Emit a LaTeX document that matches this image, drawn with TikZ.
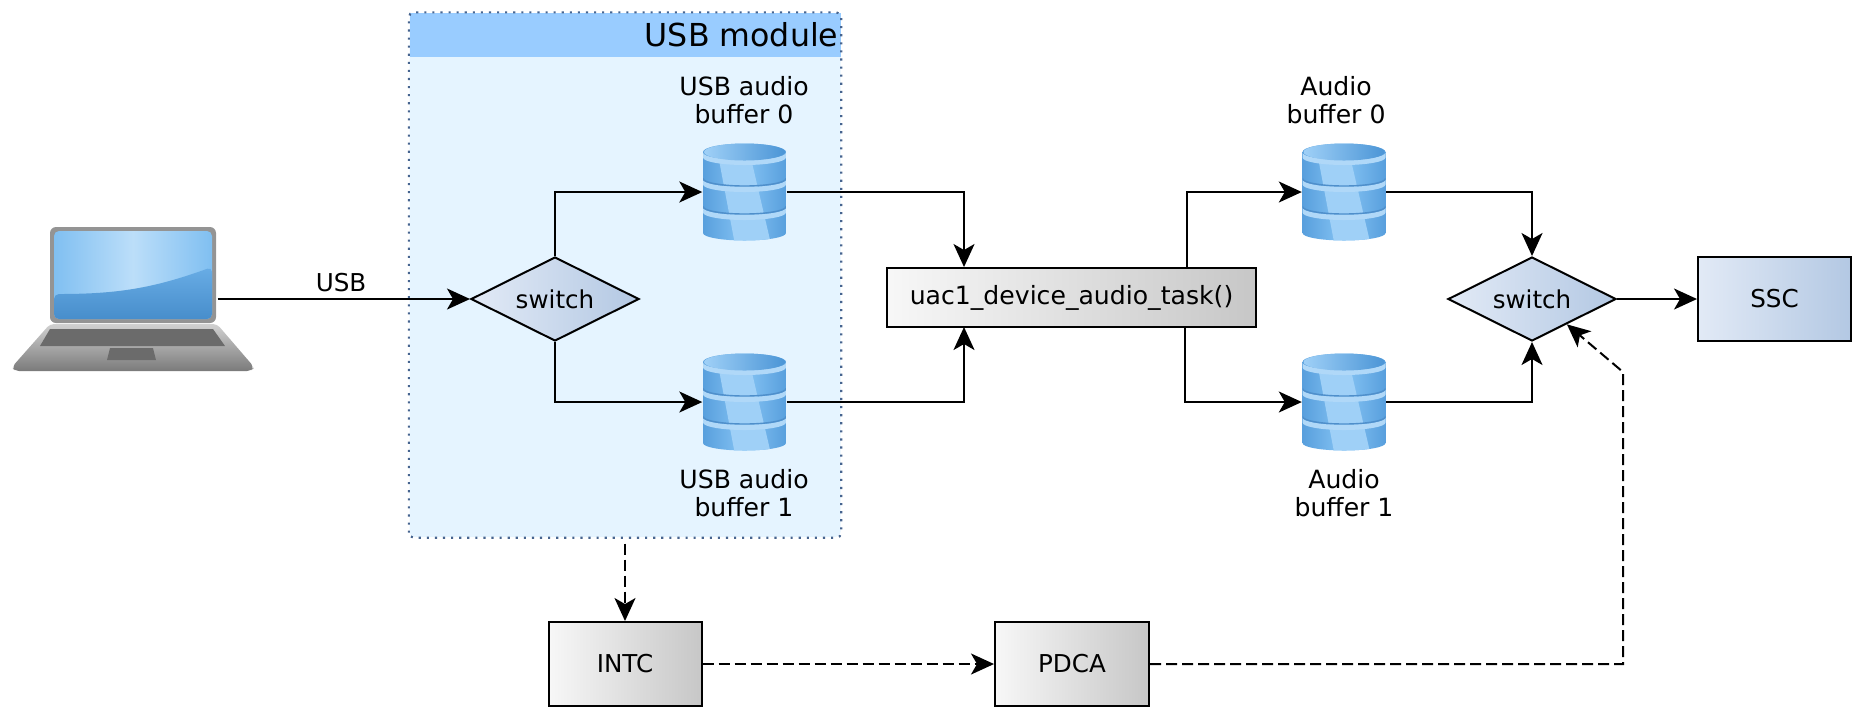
\documentclass[tikz,border=0pt]{standalone}
\usepackage{fontspec}
\setmainfont{DejaVu Sans}
\usetikzlibrary{arrows.meta,shapes.geometric}
\definecolor{modfill}{HTML}{E5F4FF}
\definecolor{modhead}{HTML}{99CCFF}
\definecolor{modline}{HTML}{46648F}
\definecolor{swleft}{HTML}{E2EAF6}
\definecolor{swright}{HTML}{B3C8E3}
\definecolor{dbdark}{HTML}{4B95D6}
\definecolor{dbside}{HTML}{589FDD}
\definecolor{dbmid}{HTML}{86C4F4}
\definecolor{dblight}{HTML}{9FD0F7}
\definecolor{dbrim}{HTML}{B0D8F8}
\definecolor{dbseam}{HTML}{4F8FCB}
\tikzset{
  txt/.style={font=\fontsize{7}{8.1}\selectfont, inner sep=0pt, align=center},
  bufname/.style={font=\fontsize{7.15}{8.1}\selectfont, inner sep=0pt, align=center},
  flow/.style={line width=0.57pt, -{Stealth[length=2.3mm,width=2.1mm,inset=0.6mm]}},
  dflow/.style={flow, dash pattern=on 1.1mm off 0.5mm},
  greybox/.style={txt, draw, line width=0.57pt, shading angle=110, left color=black!3, right color=black!22},
  bluebox/.style={txt, draw, line width=0.57pt, shading angle=110, left color=swleft, right color=swright},
  switchnode/.style={txt, diamond, aspect=2, draw, line width=0.57pt, minimum width=1.68cm, minimum height=0.84cm,
    shading angle=110, left color=swleft, right color=swright},
  dbnode/.style={inner sep=0pt, minimum width=0.83cm, minimum height=0.98cm},
  pics/dbicon/.style={code={
    \begin{scope}
      \clip (-0.415,-0.40) -- (-0.415,0.41) arc[x radius=0.415, y radius=-0.075, start angle=180, end angle=360]
        -- (0.415,-0.40) arc[x radius=0.415, y radius=-0.085, start angle=0, end angle=180] -- cycle;
      \shade[left color=dbside, right color=dbside, middle color=dbmid] (-0.415,-0.50) rectangle (0.415,0.50);
      \fill[dblight] (-0.27,-0.40) -- (0.05,-0.40) -- (0.26,0.50) -- (-0.10,0.50) -- cycle;
      \foreach \s in {-0.395,-0.125,0.155} {
        \fill[dbrim] (-0.415,\s) arc[x radius=0.415, y radius=-0.075, start angle=180, end angle=360]
          -- ++(0,0.05) arc[x radius=0.415, y radius=-0.075, start angle=360, end angle=180] -- cycle;
      }
      \foreach \s in {-0.135,0.145} {
        \draw[dbseam, line width=0.4pt] (-0.415,\s) arc[x radius=0.415, y radius=-0.075, start angle=180, end angle=360];
      }
    \end{scope}
    \shade[left color=dblight, right color=dbdark] (0,-0.40) ellipse[x radius=0.405, y radius=0.085];
  }}
}
\begin{document}
\begin{tikzpicture}[x=1cm, y=-1cm]
   \useasboundingbox (0,0) rectangle (18.63,7.18);
   % usb module
   \node[fill=modfill, rounded corners=0.5mm, minimum width=4.31cm, minimum height=5.24cm, inner sep=0pt] (usbmod) at (6.25,2.75) {};
   \node[fill=modhead, minimum width=4.31cm, minimum height=0.44cm, inner sep=0pt] (usbhead) at (6.25,0.35) {};
   \draw[modline, dash pattern=on 0.6pt off 1.7pt, line width=0.6pt, rounded corners=0.5mm] (usbmod.south west) rectangle (usbmod.north east);
   \node[font=\fontsize{9}{10}\selectfont, anchor=east, inner sep=0pt] (usbtitle) at (8.39,0.35) {USB module};
   % laptop
   \shade[top color=black!18, bottom color=black!52, rounded corners=0.4mm] (0.12,3.67) -- (0.50,3.24) -- (2.17,3.24) -- (2.54,3.67) -- (2.51,3.71) -- (0.15,3.71) -- cycle;
   \fill[black!58] (0.40,3.46) -- (0.50,3.29) -- (2.13,3.29) -- (2.25,3.46) -- cycle;
   \fill[black!58] (1.07,3.60) -- (1.10,3.48) -- (1.53,3.48) -- (1.56,3.60) -- cycle;
   \fill[black!42, rounded corners=0.6mm] (0.50,2.27) rectangle (2.16,3.23);
   \shade[rounded corners=0.5mm, left color=dbmid!90!dbdark, right color=dbmid!90!dbdark, middle color=dblight!70!white] (0.54,2.31) rectangle (2.12,3.19);
   \shade[top color=dbmid!50!dbdark, bottom color=dbdark!95!black, rounded corners=0.5mm] (0.54,2.94) to[out=0,in=200] (2.12,2.67) -- (2.12,3.19) -- (0.54,3.19) -- cycle;
   \node[inner sep=0pt, minimum width=1.67cm, minimum height=1cm] (laptop) at (1.335,2.99) {};
   % buffers
   \pic at (7.445,1.92) {dbicon};
   \pic at (7.445,4.02) {dbicon};
   \pic at (13.44,1.92) {dbicon};
   \pic at (13.44,4.02) {dbicon};
   \node[dbnode] (usbbuf0) at (7.445,1.92) {};
   \node[dbnode] (usbbuf1) at (7.445,4.02) {};
   \node[dbnode] (audbuf0) at (13.44,1.92) {};
   \node[dbnode] (audbuf1) at (13.44,4.02) {};
   \node[bufname] (usblab0) at (7.44,1.00) {USB audio\\buffer 0};
   \node[bufname] (usblab1) at (7.44,4.93) {USB audio\\buffer 1};
   \node[bufname] (audlab0) at (13.36,1.00) {Audio\\buffer 0};
   \node[bufname] (audlab1) at (13.44,4.93) {Audio\\buffer 1};
   % blocks
   \node[switchnode] (swin) at (5.55,2.99) {switch};
   \node[switchnode] (swout) at (15.32,2.99) {switch};
   \node[greybox, font=\fontsize{7.15}{8.1}\selectfont, minimum width=3.69cm, minimum height=0.59cm] (task) at (10.715,2.975) {uac1\_device\_audio\_task()};
   \node[bluebox, minimum width=1.53cm, minimum height=0.84cm] (ssc) at (17.745,2.99) {SSC};
   \node[greybox, minimum width=1.53cm, minimum height=0.84cm] (intc) at (6.25,6.64) {INTC};
   \node[greybox, minimum width=1.54cm, minimum height=0.84cm] (pdca) at (10.72,6.64) {PDCA};
   \coordinate (pdcaup) at (16.23,3.72);
   % connectors
   \draw[flow] (laptop.east) -- (swin.west);
   \node[txt] (usblab) at (3.41,2.83) {USB};
   \draw[flow] (swin.north) |- (usbbuf0.west);
   \draw[flow] (swin.south) |- (usbbuf1.west);
   \draw[flow] (usbbuf0.east) -| (9.64,2.67);
   \draw[flow] (usbbuf1.east) -| (9.64,3.27);
   \draw[flow] (11.87,2.67) |- (audbuf0.west);
   \draw[flow] (11.85,3.27) |- (audbuf1.west);
   \draw[flow] (audbuf0.east) -| (swout.north);
   \draw[flow] (audbuf1.east) -| (swout.south);
   \draw[flow] (swout.east) -- (ssc.west);
   \draw[dflow, shorten <=0.6mm] (usbmod.south) -- (intc.north);
   \draw[dflow] (intc.east) -- (pdca.west);
   \draw[dflow] (pdca.east) -| (pdcaup) -- (swout.-36.3);
\end{tikzpicture}
\end{document}
